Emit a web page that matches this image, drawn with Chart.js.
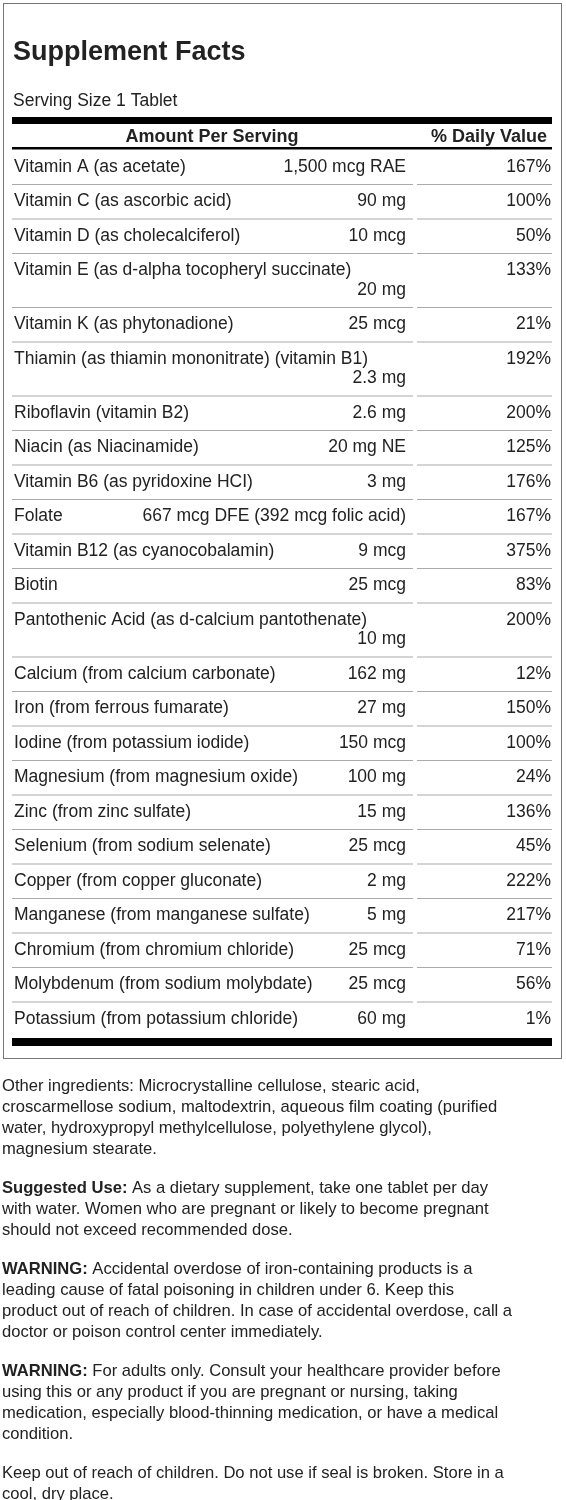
<!DOCTYPE html>
<html><head><meta charset="utf-8">
<script src="https://cdn.jsdelivr.net/npm/chart.js@4"></script>
<style>html,body{margin:0;padding:0;background:#fff}canvas{display:block}</style>
</head><body>
<canvas id="c" width="566" height="1500"></canvas>
<script>
const title = "Supplement Facts";
const servingSize = "Serving Size 1 Tablet";
const headers = ["Amount Per Serving", "% Daily Value"];
const nutrients = ["Vitamin A (as acetate)","Vitamin C (as ascorbic acid)","Vitamin D (as cholecalciferol)","Vitamin E (as d-alpha tocopheryl succinate)","Vitamin K (as phytonadione)","Thiamin (as thiamin mononitrate) (vitamin B1)","Riboflavin (vitamin B2)","Niacin (as Niacinamide)","Vitamin B6 (as pyridoxine HCI)","Folate","Vitamin B12 (as cyanocobalamin)","Biotin","Pantothenic Acid (as d-calcium pantothenate)","Calcium (from calcium carbonate)","Iron (from ferrous fumarate)","Iodine (from potassium iodide)","Magnesium (from magnesium oxide)","Zinc (from zinc sulfate)","Selenium (from sodium selenate)","Copper (from copper gluconate)","Manganese (from manganese sulfate)","Chromium (from chromium chloride)","Molybdenum (from sodium molybdate)","Potassium (from potassium chloride)"];
const amounts = ["1,500 mcg RAE","90 mg","10 mcg","20 mg","25 mcg","2.3 mg","2.6 mg","20 mg NE","3 mg","667 mcg DFE (392 mcg folic acid)","9 mcg","25 mcg","10 mg","162 mg","27 mg","150 mcg","100 mg","15 mg","25 mcg","2 mg","5 mg","25 mcg","25 mcg","60 mg"];
const dailyValues = [167,100,50,133,21,192,200,125,176,167,375,83,200,12,150,100,24,136,45,222,217,71,56,1];
const wrapped = [false,false,false,true,false,true,false,false,false,false,false,false,true,false,false,false,false,false,false,false,false,false,false,false];
const notes = [
 [{b:"",t:"Other ingredients: Microcrystalline cellulose, stearic acid,"},{t:"croscarmellose sodium, maltodextrin, aqueous film coating (purified"},{t:"water, hydroxypropyl methylcellulose, polyethylene glycol),"},{t:"magnesium stearate."}],
 [{b:"Suggested Use:",t:" As a dietary supplement, take one tablet per day"},{t:"with water. Women who are pregnant or likely to become pregnant"},{t:"should not exceed recommended dose."}],
 [{b:"WARNING:",t:" Accidental overdose of iron-containing products is a"},{t:"leading cause of fatal poisoning in children under 6. Keep this"},{t:"product out of reach of children. In case of accidental overdose, call a"},{t:"doctor or poison control center immediately."}],
 [{b:"WARNING:",t:" For adults only. Consult your healthcare provider before"},{t:"using this or any product if you are pregnant or nursing, taking"},{t:"medication, especially blood-thinning medication, or have a medical"},{t:"condition."}],
 [{b:"",t:"Keep out of reach of children. Do not use if seal is broken. Store in a"},{t:"cool, dry place."}]
];

const F = '"Liberation Sans", Arial, Helvetica, sans-serif';
const C = '#222';
const labelPlugin = {
 id:'label',
 afterDraw(chart){
  const ctx = chart.ctx, X = chart.scales.x, Y = chart.scales.y;
  const px = v => X.getPixelForValue(v), py = v => Y.getPixelForValue(v);
  ctx.save();
  ctx.strokeStyle = '#777'; ctx.lineWidth = 1;
  ctx.strokeRect(px(3)+0.5, py(3)+0.5, px(562)-px(3)-1, py(1058)-py(3));
  ctx.fillStyle = C; ctx.textBaseline = 'middle';
  ctx.font = 'bold 27px '+F; ctx.textAlign='left';
  ctx.fillText(title, px(13), py(53));
  ctx.font = '17.5px '+F;
  ctx.fillText(servingSize, px(13), py(101));
  ctx.fillStyle = '#000';
  ctx.fillRect(px(12), py(117), px(552)-px(12), 7);
  ctx.fillStyle = C;
  ctx.font = 'bold 18px '+F; ctx.textAlign='center';
  ctx.fillText(headers[0], px(212), py(137));
  ctx.textAlign='right';
  ctx.fillText(headers[1], px(547), py(137));
  ctx.fillStyle = '#000';
  ctx.fillRect(px(12), py(147), px(552)-px(12), 2.5);
  let y = 150;
  ctx.font = '17.5px '+F;
  nutrients.forEach((n,i)=>{
   const h = wrapped[i] ? 54 : 34.5;
   ctx.fillStyle = C;
   ctx.textAlign='left';
   ctx.fillText(n, px(14), py(y+17));
   ctx.textAlign='right';
   ctx.fillText(amounts[i], px(406), py(wrapped[i] ? y+36.5 : y+17));
   ctx.fillText(dailyValues[i]+'%', px(551), py(y+17));
   y += h;
   if (i < nutrients.length-1){
    ctx.fillStyle = '#aaa';
    ctx.fillRect(px(12), py(y)-0.5, px(413)-px(12), 1);
    ctx.fillRect(px(417), py(y)-0.5, px(552)-px(417), 1);
   }
  });
  ctx.fillStyle = '#000';
  ctx.fillRect(px(12), py(1038), px(552)-px(12), 8);
  let ny = 1086;
  notes.forEach(p=>{
   p.forEach(l=>{
    let x = px(2);
    ctx.textAlign='left'; ctx.fillStyle = C;
    if (l.b){ ctx.font='bold 16.6px '+F; ctx.fillText(l.b, x, py(ny)); x += ctx.measureText(l.b).width; }
    ctx.font='16.6px '+F; ctx.fillText(l.t, x, py(ny));
    ny += 21;
   });
   ny += 18;
  });
  ctx.restore();
 }
};
new Chart(document.getElementById('c'), {
 type:'scatter',
 data:{datasets:[{data:dailyValues.map(v=>({x:551,y:0})),pointRadius:0}]},
 options:{responsive:false,animation:false,devicePixelRatio:1,
  layout:{padding:0},
  plugins:{legend:{display:false},tooltip:{enabled:false}},
  scales:{x:{type:'linear',min:0,max:566,display:false},y:{type:'linear',min:0,max:1500,reverse:true,display:false}}},
 plugins:[labelPlugin]
});
</script>
</body></html>
